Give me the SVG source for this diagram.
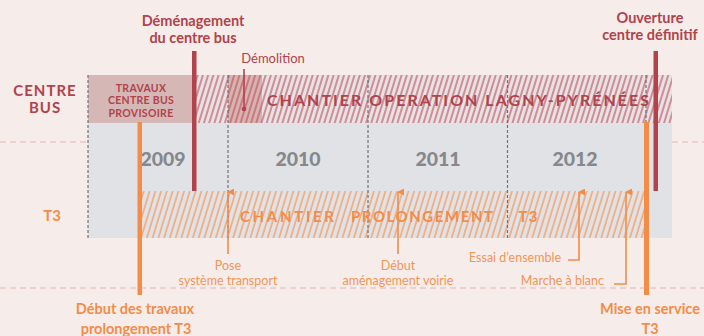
<svg xmlns="http://www.w3.org/2000/svg" width="704" height="336" viewBox="0 0 704 336">
<style>
text{font-family:Lato,"Open Sans","DejaVu Sans",sans-serif}
.red{fill:#b0434b}
.org{fill:#f48c48}
.b{font-weight:bold}
.lbl{font-size:14.5px;font-weight:bold;text-anchor:middle}
.sm{font-size:12.5px;fill:#f39557}
.yr{font-size:19.5px;font-weight:900;fill:#85888c;text-anchor:middle}
.vd{stroke:#6f7278;stroke-width:1.2;stroke-dasharray:3 2;fill:none}
.hd{stroke:#e2b6ad;stroke-width:1.2;stroke-dasharray:6 4;fill:none}
.con{stroke:#f48c48;stroke-width:1.6;fill:none}
</style>
<defs>
<pattern id="hr" patternUnits="userSpaceOnUse" width="5" height="10" patternTransform="rotate(17)">
<line x1="1" y1="0" x2="1" y2="10" stroke="#c24d55" stroke-width="1.15"/>
</pattern>
<pattern id="ho" patternUnits="userSpaceOnUse" width="5.5" height="10" patternTransform="rotate(17)">
<line x1="1" y1="0" x2="1" y2="10" stroke="#f59a5c" stroke-width="1.25"/>
</pattern>
<marker id="ar" viewBox="0 0 8 8" refX="4" refY="1" markerWidth="7" markerHeight="7" orient="auto-start-reverse" markerUnits="userSpaceOnUse">
<path d="M0,8 L4,0 L8,8 Z" fill="#f48c48"/>
</marker>
</defs>
<rect width="704" height="336" fill="#f6ecea"/>

<g id="guides">
<line class="hd" x1="0" y1="142" x2="88" y2="142"/>
<line class="hd" x1="672" y1="142" x2="704" y2="142"/>
<line class="hd" x1="0" y1="288" x2="704" y2="288"/>
</g>

<g id="panel">
<rect x="88" y="123" width="584" height="115" fill="#e1e2e6"/>
<rect x="88" y="75" width="584" height="48" fill="#e6e3e6"/>
<rect x="88" y="75" width="104" height="48" fill="#d5b8b6"/>
<rect x="228" y="75" width="34" height="48" fill="#d6b4b3"/>
<rect x="192" y="75" width="480" height="48" fill="url(#hr)"/>
<rect x="142" y="191" width="502" height="47" fill="url(#ho)"/>
</g>

<g id="years">
<line class="vd" x1="88" y1="75" x2="88" y2="238"/>
<line class="vd" x1="228" y1="75" x2="228" y2="238"/>
<line class="vd" x1="368" y1="75" x2="368" y2="238"/>
<line class="vd" x1="507.5" y1="75" x2="507.5" y2="238"/>
<line class="vd" x1="646" y1="75" x2="646" y2="238"/>
<text class="yr" x="163" y="166">2009</text>
<text class="yr" x="298" y="166">2010</text>
<text class="yr" x="438" y="166">2011</text>
<text class="yr" x="575" y="166">2012</text>
</g>

<g id="row-labels">
<text class="red b" x="45" y="96" font-size="15" letter-spacing="1" text-anchor="middle">CENTRE</text>
<text class="red b" x="45" y="113" font-size="15" letter-spacing="1" text-anchor="middle">BUS</text>
<text class="org b" x="52" y="221" font-size="15" text-anchor="middle">T3</text>
</g>

<g id="travaux-provisoire">
<text class="red b" font-size="10.5" text-anchor="middle" letter-spacing="0.3"><tspan x="141" y="91.5">TRAVAUX</tspan><tspan x="141" y="104">CENTRE BUS</tspan><tspan x="141" y="117">PROVISOIRE</tspan></text>
</g>

<g id="chantier-lagny">
<text class="red b" x="267" y="106" font-size="16" textLength="382" lengthAdjust="spacing">CHANTIER OPERATION LAGNY-PYRÉNÉES</text>
</g>

<g id="chantier-t3">
<text class="org b" x="240" y="222" font-size="15" textLength="94" lengthAdjust="spacing">CHANTIER</text>
<text class="org b" x="351" y="222" font-size="15" textLength="142" lengthAdjust="spacing">PROLONGEMENT</text>
<text class="org b" x="518.5" y="222" font-size="15" textLength="19" lengthAdjust="spacing">T3</text>
</g>

<g id="demolition">
<line x1="244" y1="69" x2="244" y2="109" stroke="#b0434b" stroke-width="1.6"/>
<circle cx="244" cy="109" r="2.3" fill="#b0434b"/>
<text class="red" x="273" y="63" font-size="13" text-anchor="middle">Démolition</text>
</g>

<g id="demenagement">
<rect x="192" y="51" width="4.5" height="140" fill="#b0434b"/>
<text class="red lbl" x="193" y="26">Déménagement</text>
<text class="red lbl" x="193" y="43">du centre bus</text>
</g>

<g id="ouverture">
<rect x="653.5" y="51" width="4.5" height="140" fill="#b0434b"/>
<text class="red lbl" x="650" y="22.5">Ouverture</text>
<text class="red lbl" x="650" y="40">centre définitif</text>
</g>

<g id="debut-travaux">
<rect x="137.5" y="122" width="4.5" height="173" fill="#f48c48"/>
<text class="org lbl" x="135" y="314">Début des travaux</text>
<text class="org lbl" x="136" y="334">prolongement T3</text>
</g>

<g id="mise-en-service">
<rect x="644" y="122" width="5" height="173" fill="#f48c48"/>
<text class="org lbl" x="650" y="314">Mise en service</text>
<text class="org lbl" x="650" y="334">T3</text>
</g>

<g id="pose">
<text class="sm" x="228" y="270" text-anchor="middle">Pose</text>
<text class="sm" x="228" y="285" text-anchor="middle">système transport</text>
</g>
<g id="debut-voirie">
<text class="sm" x="398" y="270" text-anchor="middle">Début</text>
<text class="sm" x="398" y="285" text-anchor="middle">aménagement voirie</text>
</g>
<g id="essai">
<text class="sm" x="561" y="261.5" text-anchor="end">Essai d’ensemble</text>
</g>
<g id="marche">
<text class="sm" x="604" y="285" text-anchor="end">Marche à blanc</text>
</g>

<g id="connectors">
<path class="con" d="M228,254 V192" marker-end="url(#ar)"/>
<path class="con" d="M398,254 V192" marker-end="url(#ar)"/>
<path class="con" d="M568,260 H579 V192" marker-end="url(#ar)"/>
<path class="con" d="M614,284 H626 V192" marker-end="url(#ar)"/>
</g>
</svg>
